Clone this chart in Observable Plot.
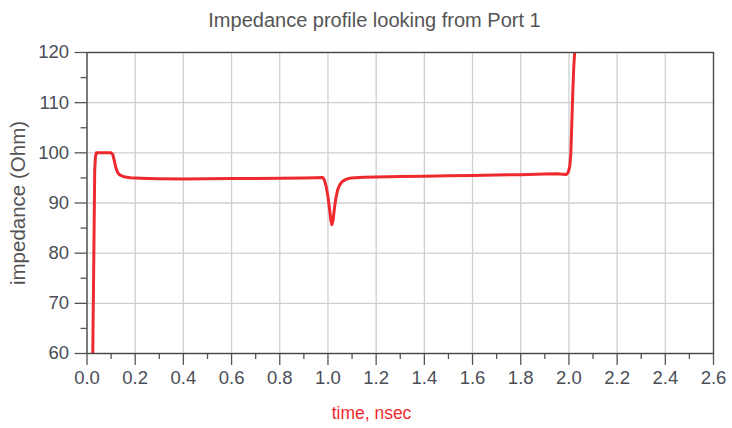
<!DOCTYPE html>
<html>
<head>
<meta charset="utf-8">
<script src="https://cdn.jsdelivr.net/npm/d3@7"></script>
<script src="https://cdn.jsdelivr.net/npm/@observablehq/plot@0.6"></script>
<style>
  html, body { margin: 0; padding: 0; background: #fff; }
  #chart svg { display: block; }
</style>
</head>
<body>
<div id="chart"></div>
<script>
const titleText = "Impedance profile looking from Port 1";
const xLabel = "time, nsec";
const yLabel = "impedance (Ohm)";

const xMajorTicks = [0, 0.2, 0.4, 0.6, 0.8, 1.0, 1.2, 1.4, 1.6, 1.8, 2.0, 2.2, 2.4, 2.6];
const xMinorTicks = [0.1, 0.3, 0.5, 0.7, 0.9, 1.1, 1.3, 1.5, 1.7, 1.9, 2.1, 2.3, 2.5];
const yMajorTicks = [60, 70, 80, 90, 100, 110, 120];
const yMinorTicks = [65, 75, 85, 95, 105, 115];

const time = [
  0.024, 0.028, 0.032, 0.035, 0.039, 0.06, 0.08, 0.10, 0.107, 0.113, 0.120, 0.127, 0.133,
  0.14, 0.15, 0.16, 0.18, 0.2, 0.25, 0.3, 0.4, 0.5, 0.6, 0.7, 0.8, 0.9, 0.95, 0.978,
  0.985, 0.993, 1.0, 1.006, 1.012, 1.016, 1.021, 1.027, 1.033, 1.04, 1.05, 1.06, 1.075,
  1.09, 1.11, 1.15, 1.2, 1.3, 1.4, 1.5, 1.6, 1.7, 1.8, 1.9, 1.95, 1.975, 1.99, 1.998,
  2.004, 2.008, 2.012, 2.016, 2.02, 2.025
];
const impedance = [
  60, 78, 96.5, 99.2, 100, 100, 100, 100, 99.7, 98.5, 97, 96.1, 95.7,
  95.5, 95.3, 95.2, 95.05, 95.0, 94.9, 94.85, 94.8, 94.82, 94.87, 94.9, 94.95, 95.0, 95.05, 95.1,
  94.6, 93.2, 91.3, 89, 86.6, 85.7, 86.5, 89, 91, 92.6, 93.7, 94.3, 94.7,
  94.95, 95.05, 95.15, 95.2, 95.3, 95.35, 95.45, 95.5, 95.6, 95.65, 95.8, 95.85, 95.75, 95.7, 96.2,
  97.5, 100, 106, 112, 117, 121
];

const data = time.map((t, i) => ({t, z: impedance[i]}));

const red = "#ee2a2e";
const tickColor = "#4a4e56";

const chart = Plot.plot({
  width: 732,
  height: 428,
  marginLeft: 86.5,
  marginRight: 19,
  marginTop: 52,
  marginBottom: 75,
  style: {fontFamily: "'Liberation Sans', Arial, sans-serif", background: "#fff"},
  x: {domain: [0, 2.6]},
  y: {domain: [60, 120]},
  marks: [
    Plot.gridX(xMajorTicks, {stroke: "#cfcfcf", strokeOpacity: 1, strokeWidth: 1.3}),
    Plot.gridY(yMajorTicks, {stroke: "#cfcfcf", strokeOpacity: 1, strokeWidth: 1.3}),
    Plot.axisX(xMajorTicks, {tickSize: 12, tickPadding: 5, tickFormat: d3.format(".1f"), fontSize: 18.5, color: tickColor, stroke: "#555", strokeWidth: 1.3, label: null}),
    Plot.axisX(xMinorTicks, {tickSize: 6, tickFormat: () => "", stroke: "#555", strokeWidth: 1.3, label: null}),
    Plot.axisY(yMajorTicks, {tickSize: 12, tickPadding: 6, fontSize: 18.5, color: tickColor, stroke: "#555", strokeWidth: 1.3, label: null}),
    Plot.axisY(yMinorTicks, {tickSize: 6, tickFormat: () => "", stroke: "#555", strokeWidth: 1.3, label: null}),
    Plot.line(data, {x: "t", y: "z", stroke: red, strokeWidth: 3, clip: true, strokeLinejoin: "round"}),
    Plot.frame({stroke: "#444", strokeWidth: 1.3}),
    Plot.text([titleText], {frameAnchor: "top-left", dx: 287.5, dy: -32, textAnchor: "middle", lineAnchor: "middle", fontSize: 20, fill: "#555"}),
    Plot.text([xLabel], {frameAnchor: "bottom-left", dx: 284.5, dy: 60, textAnchor: "middle", lineAnchor: "middle", fontSize: 17.5, fill: red}),
    Plot.text([yLabel], {frameAnchor: "left", dx: -68.5, rotate: -90, textAnchor: "middle", lineAnchor: "middle", fontSize: 20.5, fill: "#555"})
  ]
});
document.getElementById("chart").appendChild(chart);
</script>
</body>
</html>
